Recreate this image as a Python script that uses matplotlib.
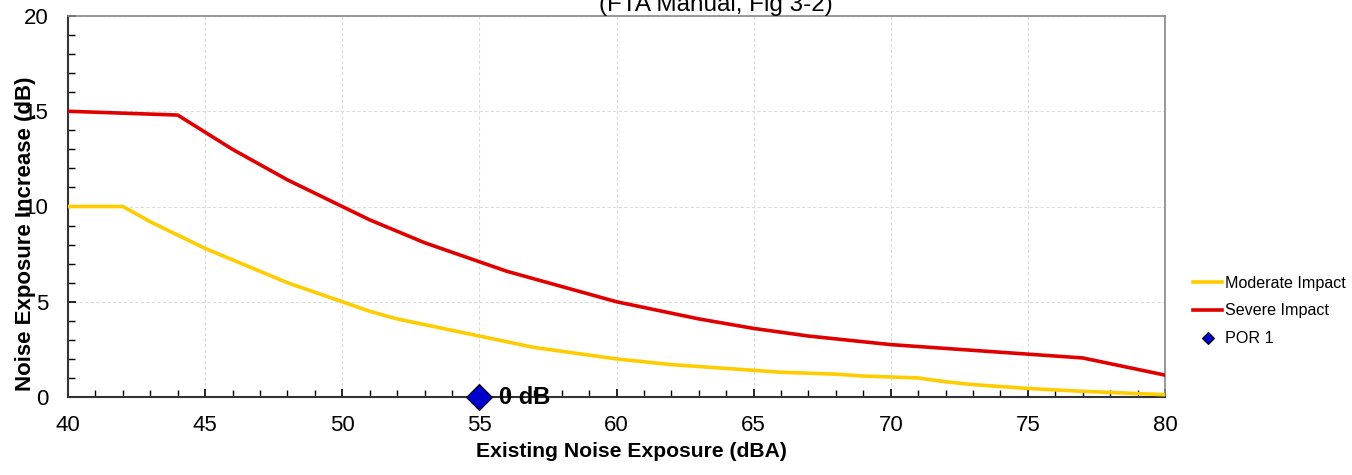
import matplotlib
matplotlib.use("Agg")
import matplotlib.pyplot as plt
from matplotlib.ticker import MultipleLocator

plt.rcParams['font.family'] = ['Liberation Sans', 'DejaVu Sans']

existing = list(range(40, 81))
moderate = [10, 10, 10, 9.2, 8.5, 7.8, 7.2, 6.6, 6.0, 5.5, 5.0, 4.5, 4.1, 3.8, 3.5, 3.2,
            2.9, 2.6, 2.4, 2.2, 2.0, 1.85, 1.7, 1.6, 1.5, 1.4, 1.3, 1.25, 1.2, 1.1, 1.05,
            1.0, 0.8, 0.65, 0.55, 0.45, 0.37, 0.3, 0.24, 0.18, 0.12]
severe = [15, 14.95, 14.9, 14.85, 14.8, 13.9, 13.0, 12.2, 11.4, 10.7, 10.0, 9.3, 8.7, 8.1,
          7.6, 7.1, 6.6, 6.2, 5.8, 5.4, 5.0, 4.7, 4.4, 4.1, 3.85, 3.6, 3.4, 3.2, 3.05, 2.9,
          2.75, 2.65, 2.55, 2.45, 2.35, 2.25, 2.15, 2.05, 1.75, 1.45, 1.15]
por_x = [55]
por_y = [0]
por_label = "0 dB"

fig = plt.figure(figsize=(13.52, 4.75), dpi=100)
ax = fig.add_axes([68/1352, 78/475, (1165-68)/1352, (397-16)/475])

ax.plot(existing, moderate, color='#FFCC00', lw=2.6, label='Moderate Impact', zorder=3)
ax.plot(existing, severe, color='#E00000', lw=2.6, label='Severe Impact', zorder=3)
ax.plot(por_x, por_y, linestyle='none', marker='D', markersize=13, markerfacecolor='#0000CC',
        markeredgecolor='black', markeredgewidth=0.8, label='POR 1', zorder=5, clip_on=False)
ax.annotate(por_label, (por_x[0], por_y[0]), xytext=(14, 0), textcoords='offset points',
            fontsize=17, fontweight='bold', va='center', ha='left', zorder=6)

ax.set_xlim(40, 80)
ax.set_ylim(0, 20)
ax.xaxis.set_major_locator(MultipleLocator(5))
ax.xaxis.set_minor_locator(MultipleLocator(1))
ax.yaxis.set_major_locator(MultipleLocator(5))
ax.yaxis.set_minor_locator(MultipleLocator(1))
ax.tick_params(which='both', direction='in', top=False, right=False, labelsize=16)
ax.tick_params(which='major', length=6, width=1.2)
ax.tick_params(which='minor', length=5, width=1.0)
ax.tick_params(axis='x', pad=13)
ax.tick_params(axis='y', pad=14)
ax.grid(True, which='major', color='#dcdcdc', linestyle=(0, (3, 2)), linewidth=0.8)
ax.set_axisbelow(True)

for s in ['left', 'bottom']:
    ax.spines[s].set_color('#333333')
    ax.spines[s].set_linewidth(1.5)
for s in ['top', 'right']:
    ax.spines[s].set_color('#888888')
    ax.spines[s].set_linewidth(1.2)

ax.set_xlabel('Existing Noise Exposure (dBA)', fontsize=15.2, fontweight='bold')
ax.xaxis.set_label_coords(0.514, -0.118)
ax.set_ylabel('Noise Exposure Increase (dB)', fontsize=16, fontweight='bold')
ax.yaxis.set_label_coords(-0.029, 0.428)

fig.text(716/1352, 1 - 11/475, '(FTA Manual, Fig 3-2)', fontsize=17.5, ha='center', va='baseline')

leg = ax.legend(loc='center left', bbox_to_anchor=(1.0125, 0.226), frameon=False, fontsize=11.6,
                handlelength=1.8, handletextpad=0.2, labelspacing=0.8, markerscale=0.5)

fig.savefig('out.png', dpi=100)
